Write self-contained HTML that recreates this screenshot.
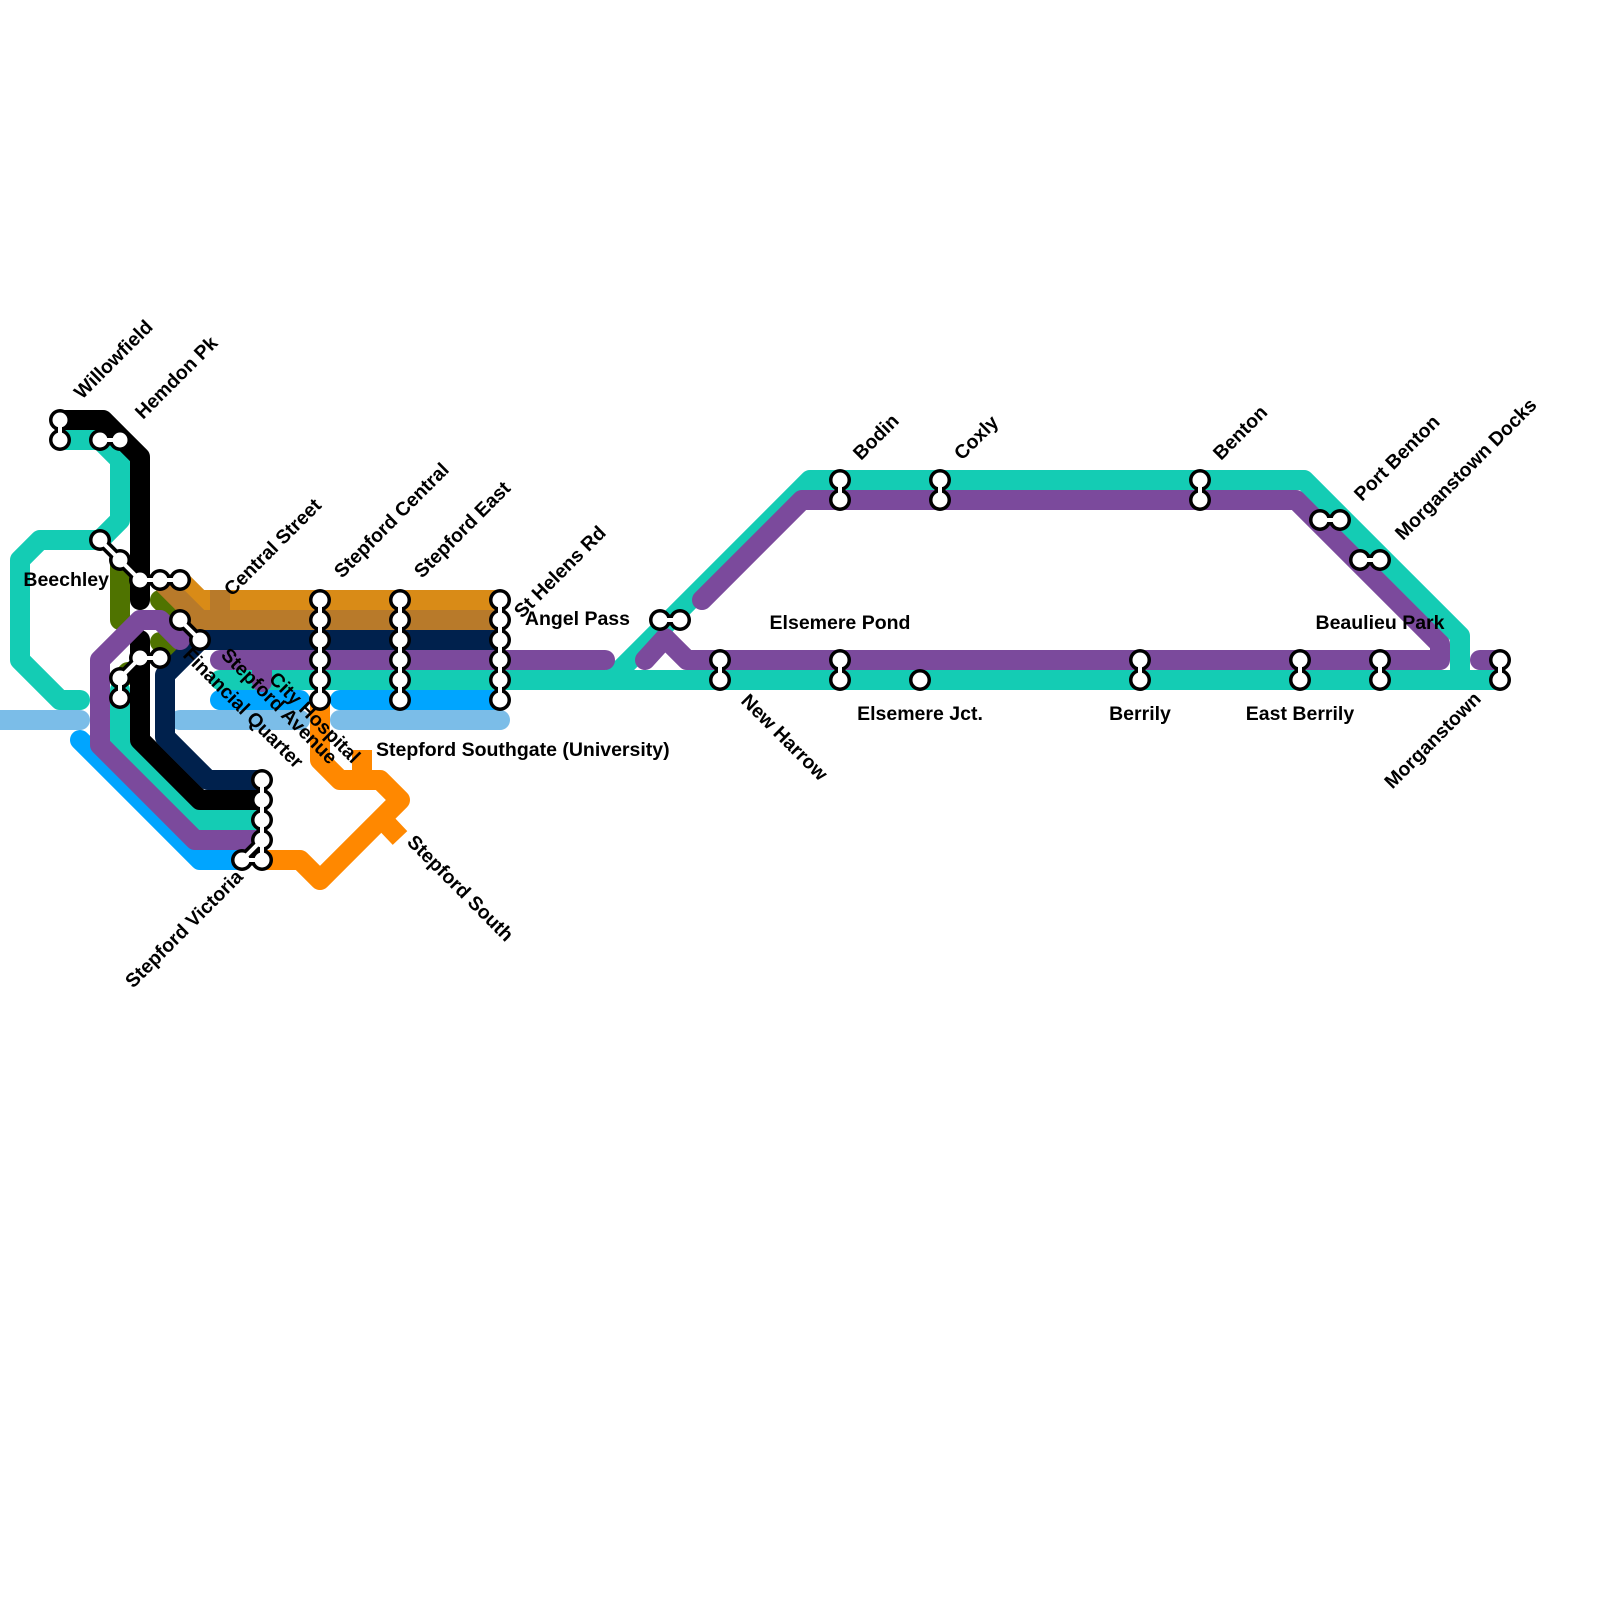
<!DOCTYPE html>
<html><head><meta charset="utf-8"><style>
html,body{margin:0;padding:0;background:#fff;}
svg{display:block}
text{font-family:"Liberation Sans",Arial,sans-serif;font-weight:bold;font-size:19.5px;fill:#000}
</style></head><body>
<svg width="1600" height="1600" viewBox="0 0 1600 1600" xmlns="http://www.w3.org/2000/svg">
<g fill="none" stroke-width="20" stroke-linejoin="round" stroke-linecap="round">
<path stroke="#7bbde8" d="M0 720 H80 M180 720 H300 M340 720 H500"/>
<path stroke="#00a5ff" d="M80 740 L200 860 H242 M220 700 H300 M340 700 H500"/>
<path stroke="#ff8800" stroke-linecap="butt" d="M320 700 V760 L340 780 H380 L400 800 L320 880 L300 860 H262 M362 750 V780 M383 820 L400 838"/>
<path stroke="#4f7300" d="M120 565 V620 M160 600 L172 612 M160 642 L168 650 M120 680 L128 672"/>
<path stroke="#14ccb4" d="M60 440 H100 L120 460 V520 L100 540 H40 L20 560 V660 L60 700 H80 M120 690 V745 L195 820 H262 M220 680 H1500 M610 680 L810 480 H1304 L1460 636 V680"/>
<path stroke="#000" d="M60 420 H103 L140 457 V600 M140 640 V740 L200 800 H262"/>
<path stroke="#00214d" stroke-linecap="butt" d="M500 640 H200 L165 675 V737 L208 780 H262"/>
<path stroke="#d98b17" stroke-linecap="butt" d="M180 580 L200 600 H500"/>
<path stroke="#b87a2a" stroke-linecap="butt" d="M160 580 L200 620 H500 M220 590 V612"/>
<path stroke="#7b4a9c" d="M180 640 L160 620 H140 L100 660 V745 L195 840 H262 M220 660 H605 M262 660 V682 M645 660 L665 638 L687 660 H1440 V644 L1296 500 H802 L702 600 M1480 660 H1500"/>
</g>
<g>
<g fill="none" stroke="#000" stroke-width="11" stroke-linecap="round" stroke-linejoin="round">
<path d="M60 420V440M100 440H120M100 540L120 560L140 580H180M180 620L200 640M120 698V678L140 658H160M320 600V700M400 600V700M500 600V700M262 780V860M242 860H262M242 860L262 840M660 620H680M720 660V680M840 660V680M840 480V500M940 480V500M1200 480V500M1140 660V680M1300 660V680M1380 660V680M1320 520H1340M1360 560H1380M1500 660V680"/>
</g>
<g fill="#000">
<circle cx="60" cy="420" r="11"/><circle cx="60" cy="440" r="11"/>
<circle cx="100" cy="440" r="11"/><circle cx="120" cy="440" r="11"/>
<circle cx="100" cy="540" r="11"/><circle cx="120" cy="560" r="11"/><circle cx="140" cy="580" r="11"/><circle cx="160" cy="580" r="11"/><circle cx="180" cy="580" r="11"/>
<circle cx="180" cy="620" r="11"/><circle cx="200" cy="640" r="11"/>
<circle cx="120" cy="698" r="11"/><circle cx="120" cy="678" r="11"/><circle cx="140" cy="658" r="11"/><circle cx="160" cy="658" r="11"/>
<circle cx="320" cy="600" r="11"/><circle cx="320" cy="620" r="11"/><circle cx="320" cy="640" r="11"/><circle cx="320" cy="660" r="11"/><circle cx="320" cy="680" r="11"/><circle cx="320" cy="700" r="11"/>
<circle cx="400" cy="600" r="11"/><circle cx="400" cy="620" r="11"/><circle cx="400" cy="640" r="11"/><circle cx="400" cy="660" r="11"/><circle cx="400" cy="680" r="11"/><circle cx="400" cy="700" r="11"/>
<circle cx="500" cy="600" r="11"/><circle cx="500" cy="620" r="11"/><circle cx="500" cy="640" r="11"/><circle cx="500" cy="660" r="11"/><circle cx="500" cy="680" r="11"/><circle cx="500" cy="700" r="11"/>
<circle cx="262" cy="780" r="11"/><circle cx="262" cy="800" r="11"/><circle cx="262" cy="820" r="11"/><circle cx="262" cy="840" r="11"/><circle cx="262" cy="860" r="11"/><circle cx="242" cy="860" r="11"/>
<circle cx="660" cy="620" r="11"/><circle cx="680" cy="620" r="11"/>
<circle cx="720" cy="660" r="11"/><circle cx="720" cy="680" r="11"/>
<circle cx="840" cy="660" r="11"/><circle cx="840" cy="680" r="11"/>
<circle cx="840" cy="480" r="11"/><circle cx="840" cy="500" r="11"/>
<circle cx="940" cy="480" r="11"/><circle cx="940" cy="500" r="11"/>
<circle cx="920" cy="680" r="11"/>
<circle cx="1200" cy="480" r="11"/><circle cx="1200" cy="500" r="11"/>
<circle cx="1140" cy="660" r="11"/><circle cx="1140" cy="680" r="11"/>
<circle cx="1300" cy="660" r="11"/><circle cx="1300" cy="680" r="11"/>
<circle cx="1380" cy="660" r="11"/><circle cx="1380" cy="680" r="11"/>
<circle cx="1320" cy="520" r="11"/><circle cx="1340" cy="520" r="11"/>
<circle cx="1360" cy="560" r="11"/><circle cx="1380" cy="560" r="11"/>
<circle cx="1500" cy="660" r="11"/><circle cx="1500" cy="680" r="11"/>
</g>
<g fill="#fff">
<circle cx="60" cy="420" r="7.5"/><circle cx="60" cy="440" r="7.5"/>
<circle cx="100" cy="440" r="7.5"/><circle cx="120" cy="440" r="7.5"/>
<circle cx="100" cy="540" r="7.5"/><circle cx="120" cy="560" r="7.5"/><circle cx="140" cy="580" r="7.5"/><circle cx="160" cy="580" r="7.5"/><circle cx="180" cy="580" r="7.5"/>
<circle cx="180" cy="620" r="7.5"/><circle cx="200" cy="640" r="7.5"/>
<circle cx="120" cy="698" r="7.5"/><circle cx="120" cy="678" r="7.5"/><circle cx="140" cy="658" r="7.5"/><circle cx="160" cy="658" r="7.5"/>
<circle cx="320" cy="600" r="7.5"/><circle cx="320" cy="620" r="7.5"/><circle cx="320" cy="640" r="7.5"/><circle cx="320" cy="660" r="7.5"/><circle cx="320" cy="680" r="7.5"/><circle cx="320" cy="700" r="7.5"/>
<circle cx="400" cy="600" r="7.5"/><circle cx="400" cy="620" r="7.5"/><circle cx="400" cy="640" r="7.5"/><circle cx="400" cy="660" r="7.5"/><circle cx="400" cy="680" r="7.5"/><circle cx="400" cy="700" r="7.5"/>
<circle cx="500" cy="600" r="7.5"/><circle cx="500" cy="620" r="7.5"/><circle cx="500" cy="640" r="7.5"/><circle cx="500" cy="660" r="7.5"/><circle cx="500" cy="680" r="7.5"/><circle cx="500" cy="700" r="7.5"/>
<circle cx="262" cy="780" r="7.5"/><circle cx="262" cy="800" r="7.5"/><circle cx="262" cy="820" r="7.5"/><circle cx="262" cy="840" r="7.5"/><circle cx="262" cy="860" r="7.5"/><circle cx="242" cy="860" r="7.5"/>
<circle cx="660" cy="620" r="7.5"/><circle cx="680" cy="620" r="7.5"/>
<circle cx="720" cy="660" r="7.5"/><circle cx="720" cy="680" r="7.5"/>
<circle cx="840" cy="660" r="7.5"/><circle cx="840" cy="680" r="7.5"/>
<circle cx="840" cy="480" r="7.5"/><circle cx="840" cy="500" r="7.5"/>
<circle cx="940" cy="480" r="7.5"/><circle cx="940" cy="500" r="7.5"/>
<circle cx="920" cy="680" r="7.5"/>
<circle cx="1200" cy="480" r="7.5"/><circle cx="1200" cy="500" r="7.5"/>
<circle cx="1140" cy="660" r="7.5"/><circle cx="1140" cy="680" r="7.5"/>
<circle cx="1300" cy="660" r="7.5"/><circle cx="1300" cy="680" r="7.5"/>
<circle cx="1380" cy="660" r="7.5"/><circle cx="1380" cy="680" r="7.5"/>
<circle cx="1320" cy="520" r="7.5"/><circle cx="1340" cy="520" r="7.5"/>
<circle cx="1360" cy="560" r="7.5"/><circle cx="1380" cy="560" r="7.5"/>
<circle cx="1500" cy="660" r="7.5"/><circle cx="1500" cy="680" r="7.5"/>
</g>
<g fill="none" stroke="#fff" stroke-width="4" stroke-linecap="round" stroke-linejoin="round">
<path d="M60 420V440M100 440H120M100 540L120 560L140 580H180M180 620L200 640M120 698V678L140 658H160M320 600V700M400 600V700M500 600V700M262 780V860M242 860H262M242 860L262 840M660 620H680M720 660V680M840 660V680M840 480V500M940 480V500M1200 480V500M1140 660V680M1300 660V680M1380 660V680M1320 520H1340M1360 560H1380M1500 660V680"/>
</g>
</g>
<text transform="translate(82,400) rotate(-45)">Willowfield</text>
<text transform="translate(143,420) rotate(-45)">Hemdon Pk</text>
<text transform="translate(232,597) rotate(-45)">Central Street</text>
<text transform="translate(342,579) rotate(-45)">Stepford Central</text>
<text transform="translate(422,579) rotate(-45)">Stepford East</text>
<text transform="translate(522,619) rotate(-45)">St Helens Rd</text>
<text transform="translate(861,461) rotate(-45)">Bodin</text>
<text transform="translate(962,461) rotate(-45)">Coxly</text>
<text transform="translate(1221,461) rotate(-45)">Benton</text>
<text transform="translate(1362,502) rotate(-45)">Port Benton</text>
<text transform="translate(1403,541) rotate(-45)">Morganstown Docks</text>
<text x="630" y="625" text-anchor="end">Angel Pass</text>
<text x="840" y="629" text-anchor="middle">Elsemere Pond</text>
<text x="1380" y="629" text-anchor="middle">Beaulieu Park</text>
<text x="109" y="586" text-anchor="end">Beechley</text>
<text x="376" y="756">Stepford Southgate (University)</text>
<text x="920" y="720" text-anchor="middle">Elsemere Jct.</text>
<text x="1140" y="720" text-anchor="middle">Berrily</text>
<text x="1300" y="720" text-anchor="middle">East Berrily</text>
<text transform="translate(740,702) rotate(45)">New Harrow</text>
<text transform="translate(406,843) rotate(45)">Stepford South</text>
<text transform="translate(182,656) rotate(45)">Financial Quarter</text>
<text transform="translate(220,656) rotate(45)">Stepford Avenue</text>
<text transform="translate(268,680) rotate(45)">City Hospital</text>
<text transform="translate(244,878) rotate(-45)" text-anchor="end">Stepford Victoria</text>
<text transform="translate(1482,700) rotate(-45)" text-anchor="end">Morganstown</text>
</svg>
</body></html>
